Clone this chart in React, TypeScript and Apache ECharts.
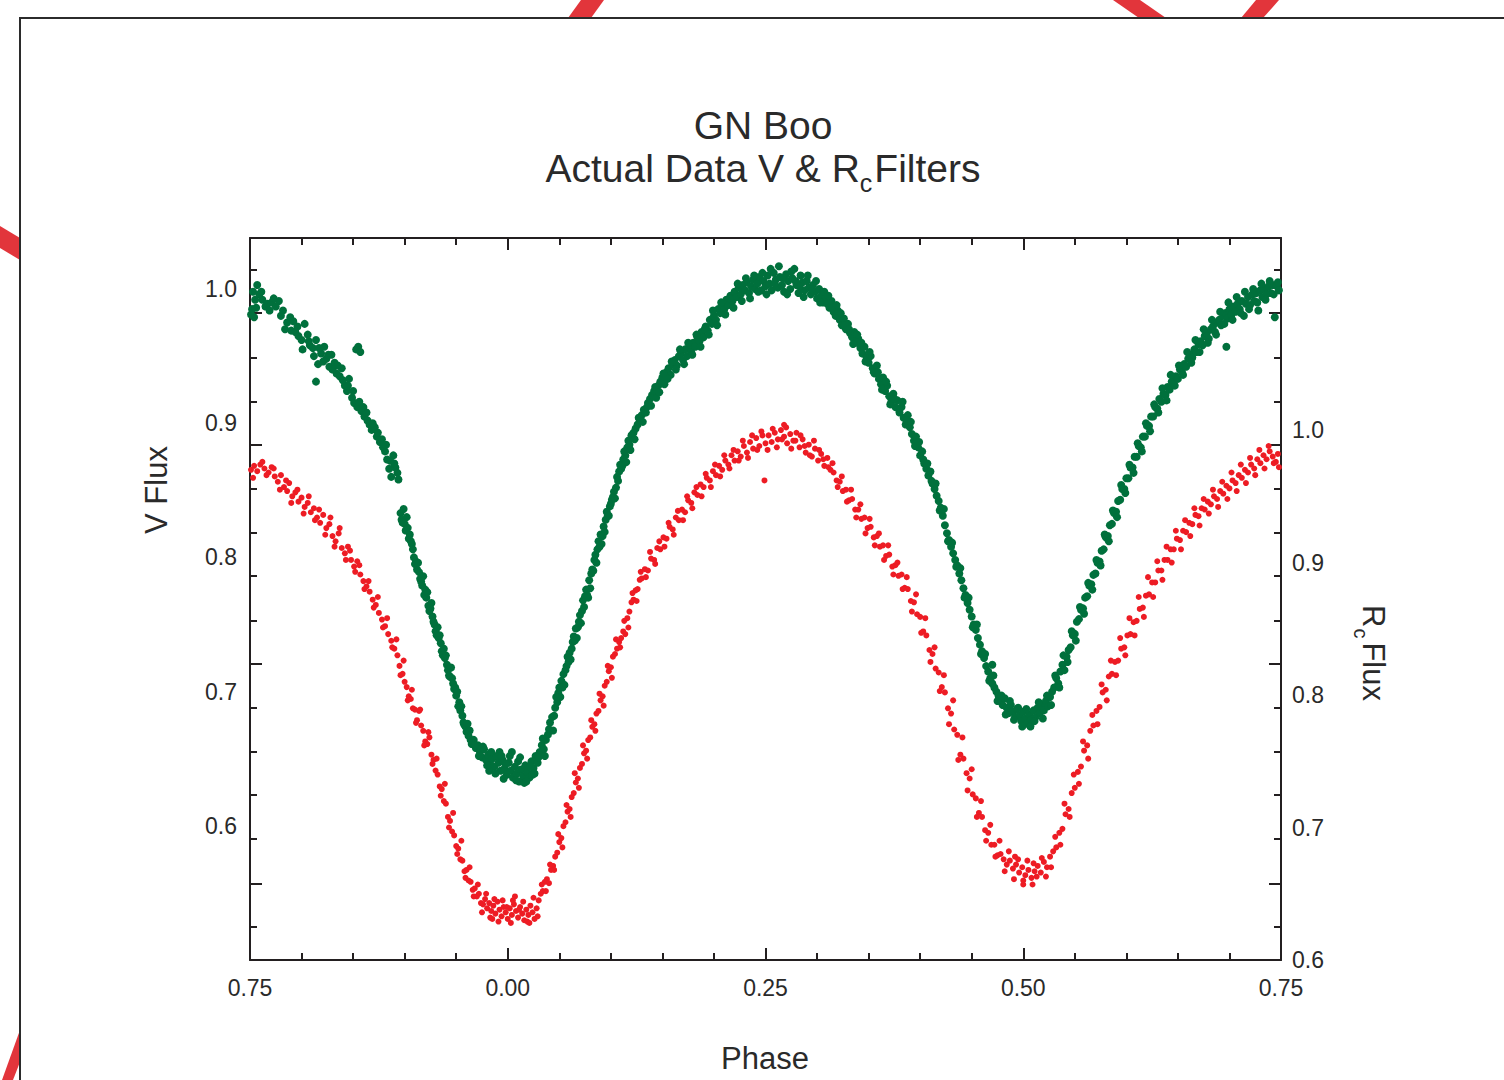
import { useEffect, useRef } from 'react';
import * as echarts from 'echarts';

// ---- axis labels / ticks ----
const phaseTicks = [-0.25, 0, 0.25, 0.5, 0.75];
const phaseTickLabels = ['0.75', '0.00', '0.25', '0.50', '0.75'];
const vLabelValues = [0.6, 0.7, 0.8, 0.9, 1.0];
const rLabelValues = [0.6, 0.7, 0.8, 0.9, 1.0];
// tick marks on the flux axes (in V-flux units)
const vTickShort = [1.014, 0.949, 0.916, 0.851, 0.818, 0.786, 0.753, 0.688, 0.655, 0.623, 0.59, 0.525];
const vTickLong = [0.982, 0.884, 0.7205, 0.557];

// ---- V filter: [phase, flux] (two observing runs) ----
const vFlux: [number, number][] = [
  [-0.249,0.981],[-0.248,0.985],[-0.247,0.998],[-0.246,0.979],[-0.245,0.992],[-0.243,1.003],[-0.241,0.996],[-0.238,0.992],[-0.235,0.987],[-0.233,0.989],[-0.229,0.990],[-0.225,0.987],[-0.222,0.991],[-0.218,0.984],[-0.214,0.975],[-0.211,0.979],[-0.208,0.976],[-0.206,0.968],[-0.203,0.965],[-0.200,0.962],[-0.197,0.974],[-0.194,0.966],[-0.192,0.958],[-0.189,0.956],[-0.186,0.962],[-0.186,0.931],[-0.184,0.944],[-0.181,0.952],[-0.178,0.957],[-0.176,0.948],[-0.173,0.942],[-0.171,0.951],[-0.168,0.945],[-0.166,0.937],[-0.163,0.935],[-0.161,0.941],[-0.158,0.928],[-0.156,0.924],[-0.154,0.933],[-0.151,0.919],[-0.149,0.915],[-0.147,0.955],[-0.145,0.957],[-0.143,0.953],[-0.146,0.912],[-0.142,0.909],[-0.139,0.905],[-0.137,0.908],[-0.134,0.899],[-0.132,0.895],[-0.129,0.897],[-0.127,0.890],[-0.124,0.886],[-0.121,0.882],[-0.119,0.879],[-0.117,0.873],[-0.115,0.866],[-0.113,0.860],[-0.111,0.876],[-0.109,0.867],[-0.107,0.863],
  [-0.104,0.833],[-0.103,0.828],[-0.101,0.836],[-0.100,0.825],[-0.098,0.830],[-0.097,0.822],[-0.095,0.817],[-0.094,0.812],[-0.092,0.806],[-0.091,0.800],[-0.089,0.797],[-0.088,0.791],[-0.086,0.789],[-0.085,0.784],[-0.083,0.779],[-0.082,0.786],[-0.080,0.776],[-0.079,0.770],[-0.077,0.764],[-0.076,0.760],[-0.074,0.766],[-0.073,0.756],[-0.071,0.750],[-0.070,0.745],[-0.068,0.748],[-0.067,0.740],[-0.065,0.736],[-0.064,0.730],[-0.062,0.732],[-0.061,0.725],[-0.059,0.720],[-0.058,0.716],[-0.056,0.711],[-0.055,0.718],[-0.053,0.706],[-0.052,0.702],[-0.050,0.697],[-0.049,0.700],[-0.047,0.692],[-0.046,0.686],[-0.044,0.682],[-0.043,0.677],[-0.041,0.674],[-0.040,0.670],[-0.038,0.667],[-0.037,0.671],[-0.035,0.661],[-0.033,0.664],[-0.031,0.658],[-0.029,0.660],[-0.027,0.655],[-0.025,0.651],[-0.023,0.657],
  [-0.021,0.649],[-0.019,0.653],[-0.017,0.646],[-0.015,0.650],[-0.013,0.644],[-0.011,0.652],[-0.009,0.647],[-0.007,0.641],[-0.005,0.649],[-0.003,0.643],[-0.001,0.638],[0.001,0.647],[0.003,0.641],[0.005,0.636],[0.007,0.644],[0.009,0.639],[0.011,0.633],[0.013,0.642],[0.015,0.637],[0.017,0.645],[0.019,0.640],[0.021,0.636],[0.023,0.648],[0.025,0.643],[0.027,0.652],[0.029,0.647],[0.031,0.655],[0.033,0.660],[0.035,0.657],[0.037,0.664],
  [-0.018,0.641],[-0.008,0.655],[0.002,0.652],[0.010,0.648],[0.016,0.632],[0.024,0.638],[-0.004,0.635],
  [0.039,0.668],[0.041,0.677],[0.043,0.681],[0.044,0.671],[0.046,0.688],[0.048,0.692],[0.049,0.699],[0.051,0.696],[0.052,0.708],[0.054,0.713],[0.055,0.705],[0.057,0.719],[0.058,0.726],[0.060,0.729],[0.061,0.724],[0.063,0.737],[0.064,0.741],[0.066,0.747],[0.067,0.740],[0.069,0.752],[0.070,0.757],[0.072,0.760],[0.073,0.768],[0.075,0.771],[0.076,0.776],[0.078,0.770],[0.079,0.783],[0.081,0.788],[0.082,0.791],[0.084,0.798],[0.085,0.802],[0.087,0.806],[0.088,0.812],[0.090,0.817],[0.091,0.810],[0.093,0.823],[0.095,0.828],[0.097,0.831],[0.099,0.838],[0.101,0.843],[0.103,0.849],[0.105,0.852],[0.106,0.860],[0.108,0.864],[0.110,0.866],[0.112,0.873],[0.114,0.876],[0.116,0.882],[0.118,0.884],[0.120,0.891],
  [0.122,0.893],[0.124,0.896],[0.126,0.899],[0.128,0.903],[0.130,0.906],[0.132,0.910],[0.134,0.908],[0.136,0.915],[0.138,0.918],[0.140,0.921],[0.142,0.924],[0.144,0.919],[0.146,0.928],[0.148,0.931],[0.150,0.934],[0.152,0.929],[0.154,0.938],[0.156,0.941],[0.158,0.936],[0.160,0.944],[0.162,0.947],[0.164,0.943],[0.166,0.950],[0.168,0.952],[0.170,0.947],[0.172,0.955],[0.174,0.950],[0.176,0.957],[0.178,0.953],[0.180,0.960],[0.182,0.957],[0.184,0.964],[0.186,0.961],[0.188,0.968],[0.190,0.964],[0.192,0.972],[0.194,0.969],[0.196,0.977],[0.198,0.974],[0.200,0.980],[0.202,0.977],[0.204,0.985],[0.206,0.982],[0.208,0.988],[0.210,0.985],[0.212,0.992],[0.214,0.988],[0.216,0.995],[0.218,0.991],[0.220,0.998],[0.222,0.994],[0.224,1.001],[0.226,0.996],[0.228,1.003],[0.230,0.999],[0.232,1.005],[0.234,0.997],[0.236,1.002],[0.238,1.007],[0.240,1.000],[0.242,1.004],[0.244,1.009],[0.246,0.999],[0.248,1.006],[0.250,1.002],
  [0.252,1.010],[0.254,1.004],[0.256,0.999],[0.258,1.012],[0.260,1.007],[0.262,1.001],[0.264,1.009],[0.266,1.003],[0.268,0.998],[0.270,1.011],[0.272,1.006],[0.274,1.000],[0.276,1.008],[0.278,1.015],[0.280,1.003],[0.282,0.997],[0.284,1.010],[0.286,1.005],[0.288,0.999],[0.290,1.006],[0.292,1.001],[0.294,0.996],[0.296,1.003],[0.298,0.998],[0.300,0.993],[0.302,1.000],[0.304,0.995],[0.306,0.990],
  [0.308,0.994],[0.310,0.989],[0.312,0.986],[0.314,0.991],[0.316,0.983],[0.318,0.980],[0.320,0.984],[0.322,0.977],[0.324,0.973],[0.326,0.978],[0.328,0.970],[0.330,0.974],[0.332,0.967],[0.334,0.964],[0.336,0.968],[0.338,0.960],[0.340,0.963],[0.342,0.956],[0.344,0.952],[0.346,0.957],[0.348,0.949],[0.350,0.945],[0.352,0.950],[0.354,0.941],[0.356,0.937],[0.358,0.943],[0.360,0.933],[0.362,0.929],[0.364,0.934],[0.366,0.924],[0.368,0.928],[0.370,0.920],[0.372,0.916],[0.374,0.922],[0.376,0.912],[0.378,0.917],[0.380,0.908],[0.382,0.912],[0.384,0.904],[0.386,0.899],[0.388,0.906],[0.390,0.897],[0.392,0.892],[0.394,0.887],[0.396,0.890],[0.398,0.882],[0.400,0.876],[0.402,0.879],[0.404,0.870],[0.406,0.866],[0.408,0.861],[0.410,0.864],[0.412,0.855],[0.414,0.851],[0.416,0.846],[0.418,0.842],[0.420,0.837],[0.422,0.831],[0.424,0.824],[0.426,0.818],[0.428,0.813],[0.430,0.808],[0.432,0.803],[0.434,0.798],[0.436,0.794],[0.438,0.788],[0.440,0.783],[0.442,0.777],[0.444,0.772],[0.446,0.766],[0.448,0.761],[0.450,0.756],[0.452,0.750],[0.454,0.746],[0.456,0.740],[0.458,0.735],[0.460,0.730],[0.462,0.725],[0.464,0.719],[0.466,0.715],[0.468,0.710],[0.470,0.706],[0.470,0.720],[0.472,0.703],[0.474,0.700],[0.476,0.697],
  [0.478,0.693],[0.480,0.690],[0.482,0.695],[0.484,0.688],[0.486,0.684],[0.488,0.690],[0.490,0.685],[0.492,0.681],[0.494,0.687],[0.496,0.682],[0.498,0.678],[0.500,0.685],[0.502,0.680],[0.504,0.676],[0.506,0.683],[0.508,0.679],[0.510,0.686],[0.512,0.681],[0.514,0.688],[0.516,0.684],[0.518,0.690],[0.520,0.686],[0.522,0.693],[0.524,0.689],[0.526,0.696],[0.528,0.700],
  [0.530,0.703],[0.532,0.710],[0.534,0.706],[0.536,0.715],[0.538,0.720],[0.540,0.716],[0.542,0.726],[0.544,0.731],[0.546,0.733],[0.548,0.742],[0.550,0.743],[0.552,0.752],[0.554,0.754],[0.556,0.761],[0.558,0.762],[0.560,0.770],[0.562,0.771],[0.564,0.779],[0.566,0.780],[0.568,0.787],[0.570,0.788],[0.572,0.796],[0.574,0.797],[0.576,0.805],[0.578,0.806],[0.580,0.815],[0.582,0.816],[0.584,0.824],[0.586,0.825],[0.588,0.833],[0.590,0.834],[0.592,0.842],[0.594,0.843],[0.596,0.851],[0.598,0.851],[0.600,0.859],[0.602,0.859],[0.604,0.867],[0.606,0.867],[0.608,0.875],[0.610,0.875],[0.612,0.883],[0.614,0.882],[0.616,0.890],[0.618,0.890],[0.620,0.898],[0.622,0.898],[0.624,0.905],[0.626,0.905],[0.628,0.912],[0.630,0.911],[0.632,0.918],[0.634,0.916],[0.636,0.922],[0.638,0.921],[0.640,0.927],[0.642,0.925],[0.644,0.931],[0.646,0.929],[0.648,0.935],[0.650,0.933],
  [0.652,0.940],[0.654,0.938],[0.656,0.944],[0.658,0.942],[0.660,0.948],[0.662,0.951],[0.664,0.949],[0.666,0.955],[0.668,0.953],[0.670,0.959],[0.672,0.961],[0.674,0.958],[0.676,0.965],[0.678,0.967],[0.680,0.963],[0.682,0.970],[0.684,0.972],[0.686,0.968],[0.688,0.975],[0.690,0.977],[0.692,0.973],[0.694,0.980],[0.696,0.982],[0.697,0.957],[0.698,0.978],[0.700,0.985],[0.702,0.981],[0.704,0.987],[0.706,0.983],[0.708,0.989],[0.710,0.985],[0.712,0.991],[0.714,0.980],[0.716,0.989],[0.718,0.994],[0.720,0.988],[0.722,0.996],[0.724,0.991],[0.726,0.997],[0.728,0.984],[0.730,0.999],[0.732,0.994],[0.734,1.000],[0.736,0.996],[0.738,1.002],[0.740,0.997],[0.742,1.003],[0.744,0.979],[0.746,1.002],[0.748,0.999]
];

const vFluxB: [number, number][] = [
  [-0.244,0.986],[-0.239,0.998],[-0.231,0.984],[-0.227,0.993],[-0.220,0.980],[-0.216,0.970],[-0.210,0.969],[-0.204,0.972],[-0.199,0.955],[-0.193,0.961],[-0.188,0.950],[-0.183,0.956],[-0.179,0.946],[-0.174,0.951],[-0.170,0.940],[-0.165,0.943],[-0.160,0.932],[-0.155,0.928],[-0.150,0.924],[-0.144,0.916],[-0.140,0.912],[-0.136,0.902],[-0.131,0.900],[-0.126,0.893],[-0.122,0.888],[-0.118,0.884],[-0.114,0.872],[-0.110,0.870],[-0.106,0.858],
  [-0.102,0.826],[-0.099,0.820],[-0.096,0.814],[-0.093,0.810],[-0.090,0.795],[-0.087,0.796],[-0.084,0.782],[-0.081,0.772],[-0.078,0.774],[-0.075,0.762],[-0.072,0.752],[-0.069,0.742],[-0.066,0.742],[-0.063,0.727],[-0.060,0.727],[-0.057,0.712],[-0.054,0.710],[-0.051,0.703],[-0.048,0.689],[-0.045,0.689],[-0.042,0.675],[-0.039,0.676],[-0.036,0.664],[-0.032,0.660],[-0.028,0.652],[-0.024,0.659],
  [-0.020,0.645],[-0.016,0.655],[-0.012,0.639],[-0.006,0.652],[-0.002,0.646],[0.004,0.655],[0.008,0.634],[0.012,0.651],[0.018,0.633],[0.022,0.644],[0.026,0.639],[0.030,0.651],[0.034,0.665],[0.036,0.652],
  [0.040,0.672],[0.045,0.682],[0.047,0.696],[0.050,0.703],[0.053,0.703],[0.056,0.716],[0.059,0.722],[0.062,0.732],[0.065,0.738],[0.068,0.748],[0.071,0.751],[0.074,0.763],[0.077,0.772],[0.080,0.777],[0.083,0.790],[0.086,0.796],[0.089,0.808],[0.092,0.816],[0.094,0.819],[0.096,0.834],[0.098,0.831],[0.100,0.840],[0.102,0.845],[0.104,0.844],[0.107,0.857],[0.109,0.869],[0.111,0.868],[0.113,0.879],[0.115,0.871],[0.117,0.887],[0.119,0.880],
  [0.123,0.888],[0.127,0.904],[0.131,0.901],[0.135,0.912],[0.139,0.913],[0.143,0.927],[0.147,0.923],[0.151,0.937],[0.155,0.933],[0.159,0.946],[0.163,0.940],[0.167,0.955],[0.171,0.944],[0.175,0.960],[0.179,0.951],[0.183,0.966],[0.187,0.957],[0.191,0.970],[0.195,0.966],[0.199,0.984],[0.203,0.973],[0.207,0.990],[0.211,0.981],[0.215,0.993],[0.219,0.986],[0.223,1.004],[0.227,0.991],[0.231,1.008],[0.235,0.993],[0.239,1.010],[0.243,0.998],[0.247,1.012],
  [0.251,0.996],[0.255,1.015],[0.259,1.004],[0.263,1.017],[0.267,1.008],[0.271,0.996],[0.275,1.013],[0.279,1.006],[0.283,1.002],[0.287,0.994],[0.291,1.010],[0.295,1.000],[0.299,1.006],[0.303,0.990],[0.307,0.998],
  [0.311,0.995],[0.315,0.986],[0.319,0.988],[0.323,0.982],[0.327,0.973],[0.331,0.970],[0.335,0.959],[0.339,0.966],[0.343,0.960],[0.347,0.946],[0.351,0.953],[0.355,0.938],[0.359,0.938],[0.363,0.925],[0.367,0.931],[0.371,0.914],[0.375,0.918],[0.379,0.911],[0.383,0.916],[0.387,0.902],[0.391,0.901],[0.395,0.883],[0.399,0.886],[0.403,0.873],[0.407,0.870],[0.411,0.857],[0.415,0.855],[0.419,0.835],[0.423,0.836],[0.427,0.812],[0.431,0.811],[0.435,0.793],[0.439,0.792],[0.443,0.770],[0.447,0.770],[0.451,0.748],[0.455,0.750],[0.459,0.728],[0.463,0.728],[0.467,0.708],[0.471,0.712],[0.475,0.693],
  [0.479,0.697],[0.483,0.683],[0.487,0.693],[0.491,0.679],[0.495,0.688],[0.499,0.674],[0.503,0.687],[0.507,0.674],[0.511,0.678],[0.515,0.692],[0.519,0.680],[0.523,0.697],[0.527,0.690],
  [0.531,0.712],[0.535,0.703],[0.539,0.727],[0.543,0.722],[0.547,0.745],[0.551,0.738],[0.555,0.763],[0.559,0.758],[0.563,0.781],[0.567,0.776],[0.571,0.798],[0.575,0.794],[0.579,0.817],[0.583,0.812],[0.587,0.835],[0.591,0.830],[0.595,0.854],[0.599,0.848],[0.603,0.869],[0.607,0.863],[0.611,0.885],[0.615,0.879],[0.619,0.900],[0.623,0.894],[0.627,0.914],[0.631,0.908],[0.635,0.926],[0.639,0.917],[0.643,0.936],[0.647,0.928],[0.651,0.943],
  [0.655,0.936],[0.659,0.953],[0.663,0.945],[0.667,0.962],[0.671,0.953],[0.675,0.970],[0.679,0.960],[0.683,0.977],[0.687,0.966],[0.691,0.983],[0.695,0.974],[0.699,0.990],[0.703,0.977],[0.707,0.994],[0.711,0.982],[0.715,0.998],[0.719,0.985],[0.723,1.000],[0.727,0.990],[0.731,1.004],[0.735,0.992],[0.739,1.006],[0.743,0.996],[0.747,1.005]
];

// ---- Rc filter: [phase, flux] (two observing runs) ----
const rcFlux: [number, number][] = [
  [-0.249,0.970],[-0.246,0.973],[-0.243,0.969],[-0.240,0.974],[-0.236,0.971],[-0.232,0.968],[-0.229,0.972],[-0.226,0.965],[-0.223,0.961],[-0.220,0.966],[-0.217,0.957],[-0.214,0.954],[-0.212,0.960],[-0.209,0.950],[-0.206,0.953],[-0.203,0.946],[-0.200,0.949],[-0.197,0.942],[-0.194,0.945],[-0.191,0.938],[-0.188,0.941],[-0.185,0.934],[-0.182,0.930],[-0.179,0.936],[-0.176,0.926],[-0.173,0.929],[-0.170,0.920],[-0.167,0.916],[-0.164,0.922],[-0.161,0.911],[-0.158,0.907],[-0.155,0.912],[-0.152,0.902],[-0.149,0.897],[-0.146,0.901],[-0.143,0.891],[-0.140,0.886],[-0.137,0.882],[-0.134,0.878],[-0.131,0.872],[-0.128,0.868],[-0.125,0.862],[-0.122,0.857],[-0.119,0.852],[-0.116,0.846],[-0.113,0.841],[-0.110,0.835],[-0.107,0.830],[-0.105,0.822],[-0.102,0.816],[-0.100,0.810],
  [-0.098,0.806],[-0.096,0.799],[-0.094,0.797],[-0.092,0.790],[-0.090,0.789],[-0.088,0.781],[-0.086,0.788],[-0.084,0.777],[-0.082,0.773],[-0.080,0.765],[-0.078,0.763],[-0.076,0.768],[-0.074,0.755],[-0.072,0.751],[-0.070,0.743],[-0.068,0.740],[-0.066,0.731],[-0.064,0.729],[-0.062,0.720],[-0.060,0.718],[-0.058,0.708],[-0.056,0.705],[-0.054,0.697],[-0.052,0.694],[-0.050,0.686],[-0.048,0.684],[-0.046,0.676],[-0.044,0.675],[-0.042,0.667],[-0.040,0.668],[-0.038,0.660],[-0.036,0.659],[-0.034,0.653],[-0.032,0.654],[-0.030,0.648],[-0.028,0.650],[-0.026,0.643],
  [-0.024,0.642],[-0.022,0.646],[-0.020,0.639],[-0.018,0.643],[-0.016,0.637],[-0.014,0.641],[-0.012,0.635],[-0.010,0.644],[-0.008,0.638],[-0.006,0.633],[-0.004,0.640],[-0.002,0.636],[0.000,0.631],[0.002,0.639],[0.004,0.634],[0.006,0.642],[0.008,0.637],[0.010,0.632],[0.012,0.640],[0.014,0.635],[0.016,0.630],[0.018,0.638],[0.020,0.634],[0.022,0.641],[0.024,0.636],[0.026,0.631],[0.028,0.639],[-0.015,0.631],[0.005,0.645],[0.019,0.629],
  [0.030,0.645],[0.032,0.650],[0.034,0.652],[0.036,0.659],[0.038,0.661],[0.040,0.658],[0.042,0.668],[0.044,0.671],[0.046,0.678],[0.048,0.681],[0.050,0.689],[0.052,0.692],[0.054,0.701],[0.056,0.704],[0.058,0.712],[0.060,0.714],[0.062,0.723],[0.064,0.726],[0.066,0.734],[0.068,0.737],[0.070,0.745],[0.072,0.748],[0.074,0.756],[0.076,0.758],[0.078,0.766],[0.080,0.768],[0.082,0.776],[0.084,0.778],[0.086,0.786],[0.088,0.788],[0.090,0.796],[0.092,0.799],[0.094,0.807],[0.096,0.810],[0.098,0.818],[0.100,0.821],[0.102,0.829],[0.104,0.831],[0.106,0.835],[0.108,0.840],[0.110,0.843],[0.112,0.848],[0.114,0.846],[0.116,0.858],[0.118,0.863],[0.120,0.870],[0.122,0.872],[0.124,0.879],[0.126,0.880],[0.128,0.887],
  [0.130,0.888],[0.133,0.895],[0.136,0.894],[0.139,0.903],[0.142,0.902],[0.145,0.911],[0.148,0.910],[0.151,0.919],[0.154,0.918],[0.157,0.927],[0.160,0.925],[0.163,0.934],[0.166,0.932],[0.169,0.940],[0.172,0.938],[0.175,0.947],[0.178,0.945],[0.181,0.953],[0.184,0.951],[0.187,0.959],[0.190,0.957],[0.193,0.964],[0.196,0.962],[0.199,0.969],[0.202,0.966],[0.205,0.973],[0.208,0.970],[0.211,0.977],[0.214,0.974],[0.217,0.981],[0.220,0.977],[0.223,0.984],[0.226,0.980],[0.229,0.988],[0.232,0.983],[0.235,0.991],[0.238,0.986],[0.241,0.994],[0.244,0.988],[0.247,0.996],[0.250,0.990],[0.249,0.962],
  [0.253,0.996],[0.256,0.991],[0.259,0.998],[0.262,0.993],[0.265,1.000],[0.268,1.004],[0.268,0.995],[0.271,0.990],[0.274,0.997],[0.277,0.992],[0.280,0.998],[0.283,0.987],[0.286,0.993],[0.289,0.983],[0.292,0.989],[0.295,0.980],[0.298,0.986],[0.301,0.977],[0.304,0.982],[0.307,0.973],[0.310,0.979],
  [0.313,0.970],[0.316,0.968],[0.319,0.962],[0.322,0.961],[0.325,0.954],[0.328,0.955],[0.331,0.947],[0.334,0.948],[0.337,0.940],[0.340,0.940],[0.343,0.933],[0.346,0.934],[0.349,0.926],[0.352,0.927],[0.355,0.919],[0.358,0.920],[0.361,0.912],[0.364,0.913],[0.367,0.905],[0.370,0.906],[0.373,0.897],[0.376,0.898],[0.379,0.890],[0.382,0.891],[0.385,0.881],[0.388,0.880],[0.391,0.871],[0.394,0.870],[0.397,0.861],[0.400,0.859],[0.403,0.848],[0.406,0.845],[0.409,0.834],[0.412,0.831],[0.415,0.820],[0.418,0.817],[0.421,0.806],[0.424,0.802],[0.427,0.790],[0.430,0.786],[0.433,0.774],[0.436,0.770],[0.439,0.755],[0.442,0.752],[0.445,0.741],[0.448,0.737],[0.451,0.725],[0.454,0.722],[0.457,0.711],[0.460,0.708],[0.463,0.698],[0.466,0.696],[0.469,0.687],[0.472,0.687],[0.475,0.679],[0.478,0.680],
  [0.481,0.676],[0.484,0.672],[0.487,0.675],[0.490,0.669],[0.493,0.672],[0.496,0.666],[0.499,0.670],[0.502,0.664],[0.505,0.668],[0.508,0.662],[0.511,0.667],[0.514,0.671],[0.517,0.666],[0.520,0.674],[0.523,0.670],[0.526,0.678],[0.529,0.682],[0.500,0.660],[0.510,0.673],[0.492,0.678],
  [0.532,0.685],[0.535,0.696],[0.538,0.699],[0.541,0.710],[0.544,0.714],[0.547,0.726],[0.550,0.730],[0.553,0.742],[0.556,0.746],[0.559,0.758],[0.562,0.762],[0.565,0.773],[0.568,0.777],[0.571,0.788],[0.574,0.791],[0.577,0.802],[0.580,0.804],[0.583,0.814],[0.586,0.816],[0.589,0.825],[0.592,0.826],[0.595,0.835],[0.598,0.836],[0.601,0.845],[0.604,0.846],[0.607,0.855],[0.610,0.856],[0.613,0.865],[0.616,0.866],[0.619,0.875],[0.622,0.876],[0.625,0.885],[0.628,0.885],[0.631,0.894],[0.634,0.894],[0.637,0.902],[0.640,0.902],[0.643,0.910],[0.646,0.910],[0.649,0.918],[0.652,0.917],[0.655,0.924],[0.658,0.923],[0.661,0.930],[0.664,0.929],[0.667,0.936],[0.670,0.935],[0.673,0.941],[0.676,0.940],[0.679,0.946],[0.682,0.944],[0.685,0.950],[0.688,0.948],[0.691,0.954],[0.694,0.952],[0.697,0.958],[0.700,0.956],[0.703,0.962],[0.706,0.960],[0.709,0.966],[0.712,0.964],[0.715,0.970],[0.718,0.968],[0.721,0.974],[0.724,0.971],[0.727,0.978],[0.730,0.975],[0.733,0.981],[0.736,0.978],[0.739,0.984],[0.742,0.980],[0.745,0.976],[0.748,0.972]
];

const rcFluxB: [number, number][] = [
  [-0.247,0.964],[-0.238,0.976],[-0.234,0.966],[-0.227,0.971],[-0.221,0.955],[-0.215,0.962],[-0.210,0.945],[-0.204,0.955],[-0.198,0.937],[-0.193,0.950],[-0.187,0.932],[-0.183,0.940],[-0.177,0.921],[-0.172,0.934],[-0.168,0.912],[-0.163,0.926],[-0.157,0.902],[-0.153,0.909],[-0.148,0.893],[-0.144,0.898],[-0.139,0.880],[-0.135,0.886],[-0.130,0.866],[-0.126,0.874],[-0.121,0.851],[-0.117,0.858],[-0.112,0.836],[-0.108,0.842],[-0.104,0.815],[-0.101,0.826],
  [-0.097,0.796],[-0.093,0.804],[-0.089,0.779],[-0.085,0.789],[-0.081,0.762],[-0.077,0.772],[-0.073,0.748],[-0.069,0.752],[-0.065,0.724],[-0.061,0.733],[-0.057,0.700],[-0.053,0.711],[-0.049,0.680],[-0.045,0.690],[-0.041,0.662],[-0.037,0.670],[-0.033,0.648],[-0.029,0.657],
  [-0.025,0.636],[-0.021,0.650],[-0.017,0.632],[-0.013,0.646],[-0.009,0.629],[-0.005,0.645],[-0.001,0.640],[0.003,0.628],[0.007,0.648],[0.011,0.638],[0.015,0.644],[0.021,0.628],[0.025,0.647],[0.029,0.633],
  [0.033,0.657],[0.037,0.652],[0.041,0.672],[0.045,0.668],[0.049,0.695],[0.053,0.685],[0.057,0.717],[0.061,0.708],[0.065,0.741],[0.069,0.730],[0.073,0.762],[0.077,0.752],[0.081,0.781],[0.085,0.773],[0.089,0.801],[0.093,0.792],[0.097,0.822],[0.101,0.813],[0.105,0.842],[0.109,0.836],[0.113,0.856],[0.117,0.851],[0.121,0.877],[0.125,0.871],[0.129,0.893],
  [0.134,0.889],[0.138,0.908],[0.143,0.899],[0.147,0.916],[0.152,0.912],[0.156,0.930],[0.161,0.921],[0.165,0.939],[0.170,0.932],[0.174,0.950],[0.179,0.941],[0.183,0.957],[0.188,0.950],[0.192,0.967],[0.197,0.957],[0.201,0.974],[0.206,0.965],[0.210,0.981],[0.215,0.971],[0.219,0.985],[0.224,0.977],[0.228,0.992],[0.233,0.979],[0.237,0.996],[0.242,0.985],[0.246,0.999],
  [0.252,0.985],[0.257,1.001],[0.261,0.987],[0.266,0.993],[0.270,1.002],[0.275,0.986],[0.279,0.992],[0.284,0.996],[0.288,0.988],[0.293,0.981],[0.297,0.992],[0.302,0.985],[0.306,0.978],[0.311,0.972],
  [0.315,0.975],[0.320,0.957],[0.324,0.965],[0.329,0.946],[0.333,0.955],[0.338,0.934],[0.342,0.944],[0.347,0.922],[0.351,0.933],[0.356,0.913],[0.360,0.922],[0.365,0.902],[0.369,0.913],[0.374,0.891],[0.378,0.900],[0.383,0.880],[0.387,0.889],[0.392,0.863],[0.396,0.876],[0.401,0.847],[0.405,0.858],[0.410,0.825],[0.414,0.836],[0.419,0.803],[0.423,0.815],[0.428,0.778],[0.432,0.796],[0.437,0.751],[0.441,0.768],[0.446,0.728],[0.450,0.744],[0.455,0.708],[0.459,0.720],[0.464,0.690],[0.468,0.702],[0.473,0.678],[0.477,0.690],
  [0.482,0.667],[0.486,0.682],[0.491,0.661],[0.495,0.676],[0.500,0.657],[0.504,0.675],[0.509,0.657],[0.513,0.663],[0.518,0.677],[0.522,0.663],[0.527,0.670],[0.531,0.693],
  [0.536,0.687],[0.540,0.718],[0.545,0.708],[0.549,0.740],[0.554,0.733],[0.558,0.765],[0.563,0.752],[0.567,0.785],[0.572,0.778],[0.576,0.808],[0.581,0.796],[0.585,0.826],[0.590,0.815],[0.594,0.843],[0.599,0.830],[0.603,0.858],[0.608,0.845],[0.612,0.874],[0.617,0.859],[0.621,0.889],[0.626,0.874],[0.630,0.901],[0.635,0.887],[0.639,0.912],[0.644,0.900],[0.648,0.924],[0.653,0.910],[0.657,0.932],[0.662,0.920],[0.666,0.941],[0.671,0.928],[0.675,0.948],[0.680,0.937],[0.684,0.955],[0.689,0.942],[0.693,0.961],[0.698,0.948],[0.702,0.968],[0.707,0.954],[0.711,0.974],[0.716,0.960],[0.720,0.979],[0.725,0.966],[0.729,0.985],[0.734,0.971],[0.738,0.988],[0.743,0.975],[0.747,0.982]
];

const FONT = '"Liberation Sans", Arial, Helvetica, sans-serif';
const TXT = '#2a2a2a';
const AX = '#231f20';
const GREEN = '#00703c';
const RED = '#ed1c24';
const STRIPE = '#e2353b';

function measure(text: string, size: number): number {
  const c = document.createElement('canvas').getContext('2d');
  if (!c) return text.length * size * 0.5;
  c.font = `${size}px "Liberation Sans", Arial, Helvetica, sans-serif`;
  return c.measureText(text).width;
}

function buildOption() {
  const axisLineStyle = { color: AX, width: 2 };
  const labelStyle = { fontSize: 23, color: TXT, fontFamily: FONT };

  const baseX = (pos: 'top' | 'bottom', showLabel: boolean) => ({
    type: 'value',
    position: pos,
    min: -0.25,
    max: 0.75,
    interval: 0.25,
    axisLine: { show: true, onZero: false, lineStyle: axisLineStyle },
    axisTick: { show: true, inside: true, length: 12, lineStyle: axisLineStyle },
    minorTick: { show: true, splitNumber: 5, length: 7, lineStyle: axisLineStyle },
    splitLine: { show: false },
    minorSplitLine: { show: false },
    axisLabel: {
      show: showLabel,
      margin: 16,
      ...labelStyle,
      formatter: (v: number) => {
        const i = phaseTicks.findIndex((t) => Math.abs(t - v) < 1e-6);
        return i >= 0 ? phaseTickLabels[i] : '';
      },
    },
  });

  const tickAxis = (pos: 'left' | 'right', values: number[], len: number) => ({
    type: 'value',
    position: pos,
    min: 0.5,
    max: 1.038,
    axisLine: { show: false, onZero: false },
    axisTick: { show: true, inside: true, length: len, customValues: values, lineStyle: axisLineStyle },
    axisLabel: { show: false },
    splitLine: { show: false },
  });

  // title line 2 layout
  const TS = 39;
  const t2a = 'Actual Data V & R';
  const t2b = 'c';
  const t2c = 'Filters';
  const wa = measure(t2a, TS);
  const wb = measure(t2b, 25);
  const wc = measure(t2c, TS);
  const total = wa + wb + 2 + wc;
  const x0 = 763 - total / 2;

  // right axis name layout (rotated, reading top to bottom)
  const wR = measure('R', 31);
  const wcc = measure('c', 20);

  return {
    animation: false,
    backgroundColor: '#ffffff',
    grid: { left: 250, top: 238, width: 1031, height: 722, show: false },
    xAxis: [baseX('bottom', true), baseX('top', false)],
    yAxis: [
      {
        type: 'value',
        position: 'left',
        min: 0.5,
        max: 1.038,
        axisLine: { show: true, onZero: false, lineStyle: axisLineStyle },
        axisTick: { show: true, inside: true, length: 7, customValues: vTickShort, lineStyle: axisLineStyle },
        axisLabel: { customValues: vLabelValues, margin: 13, ...labelStyle, formatter: (v: number) => v.toFixed(1) },
        splitLine: { show: false },
      },
      {
        type: 'value',
        position: 'right',
        min: 0.6,
        max: 1.145,
        axisLine: { show: true, onZero: false, lineStyle: axisLineStyle },
        axisTick: { show: false },
        axisLabel: { customValues: rLabelValues, margin: 11, ...labelStyle, formatter: (v: number) => v.toFixed(1) },
        splitLine: { show: false },
      },
      tickAxis('left', vTickLong, 12),
      tickAxis('right', vTickShort, 7),
      tickAxis('right', vTickLong, 12),
    ],
    series: [
      {
        type: 'scatter',
        name: 'Rc',
        xAxisIndex: 0,
        yAxisIndex: 1,
        data: rcFlux.concat(rcFluxB),
        symbol: 'circle',
        symbolSize: 6,
        silent: true,
        itemStyle: { color: RED, opacity: 1 },
      },
      {
        type: 'scatter',
        name: 'V',
        xAxisIndex: 0,
        yAxisIndex: 0,
        data: vFlux.concat(vFluxB),
        symbol: 'circle',
        symbolSize: 8,
        silent: true,
        itemStyle: { color: GREEN, opacity: 1 },
      },
    ],
    graphic: [
      // decorative stripes outside the frame
      { type: 'polygon', shape: { points: [[568, 18], [591, 18], [604, 0], [581, 0]] }, style: { fill: STRIPE }, silent: true },
      { type: 'polygon', shape: { points: [[1113, 0], [1140, 0], [1166, 18], [1139, 18]] }, style: { fill: STRIPE }, silent: true },
      { type: 'polygon', shape: { points: [[1241, 18], [1263, 18], [1279, 0], [1256, 0]] }, style: { fill: STRIPE }, silent: true },
      { type: 'polygon', shape: { points: [[0, 226], [20, 238], [20, 260], [0, 248]] }, style: { fill: STRIPE }, silent: true },
      { type: 'polygon', shape: { points: [[20, 1030], [20, 1062], [13, 1080], [2, 1080]] }, style: { fill: STRIPE }, silent: true },
      // frame
      { type: 'polyline', shape: { points: [[20, 1080], [20, 18], [1504, 18]] }, style: { stroke: '#2b2b2b', lineWidth: 2, fill: 'none' }, silent: true },
      // title
      { type: 'text', x: 763, y: 125, style: { text: 'GN Boo', fontSize: TS, fontFamily: FONT, fill: TXT, textAlign: 'center', textVerticalAlign: 'middle' }, silent: true },
      { type: 'text', x: x0, y: 168, style: { text: t2a, fontSize: TS, fontFamily: FONT, fill: TXT, textAlign: 'left', textVerticalAlign: 'middle' }, silent: true },
      { type: 'text', x: x0 + wa, y: 183, style: { text: t2b, fontSize: 25, fontFamily: FONT, fill: TXT, textAlign: 'left', textVerticalAlign: 'middle' }, silent: true },
      { type: 'text', x: x0 + wa + wb + 2, y: 168, style: { text: t2c, fontSize: TS, fontFamily: FONT, fill: TXT, textAlign: 'left', textVerticalAlign: 'middle' }, silent: true },
      // axis names
      { type: 'text', x: 156, y: 490, rotation: Math.PI / 2, style: { text: 'V Flux', fontSize: 31, fontFamily: FONT, fill: TXT, textAlign: 'center', textVerticalAlign: 'middle' }, silent: true },
      { type: 'text', x: 765, y: 1058, style: { text: 'Phase', fontSize: 31, fontFamily: FONT, fill: TXT, textAlign: 'center', textVerticalAlign: 'middle' }, silent: true },
      { type: 'text', x: 1373, y: 605, rotation: -Math.PI / 2, style: { text: 'R', fontSize: 31, fontFamily: FONT, fill: TXT, textAlign: 'left', textVerticalAlign: 'middle' }, silent: true },
      { type: 'text', x: 1361, y: 605 + wR + 1, rotation: -Math.PI / 2, style: { text: 'c', fontSize: 20, fontFamily: FONT, fill: TXT, textAlign: 'left', textVerticalAlign: 'middle' }, silent: true },
      { type: 'text', x: 1373, y: 605 + wR + wcc + 5, rotation: -Math.PI / 2, style: { text: 'Flux', fontSize: 31, fontFamily: FONT, fill: TXT, textAlign: 'left', textVerticalAlign: 'middle' }, silent: true },
    ],
  };
}

export default function App() {
  const ref = useRef<HTMLDivElement>(null);
  useEffect(() => {
    if (!ref.current) return;
    const chart = echarts.init(ref.current, undefined, { renderer: 'svg' });
    chart.setOption(buildOption() as any);
    return () => chart.dispose();
  }, []);
  return (
    <div
      ref={ref}
      style={{ position: 'fixed', left: 0, top: 0, width: 1504, height: 1080, background: '#ffffff' }}
    />
  );
}
